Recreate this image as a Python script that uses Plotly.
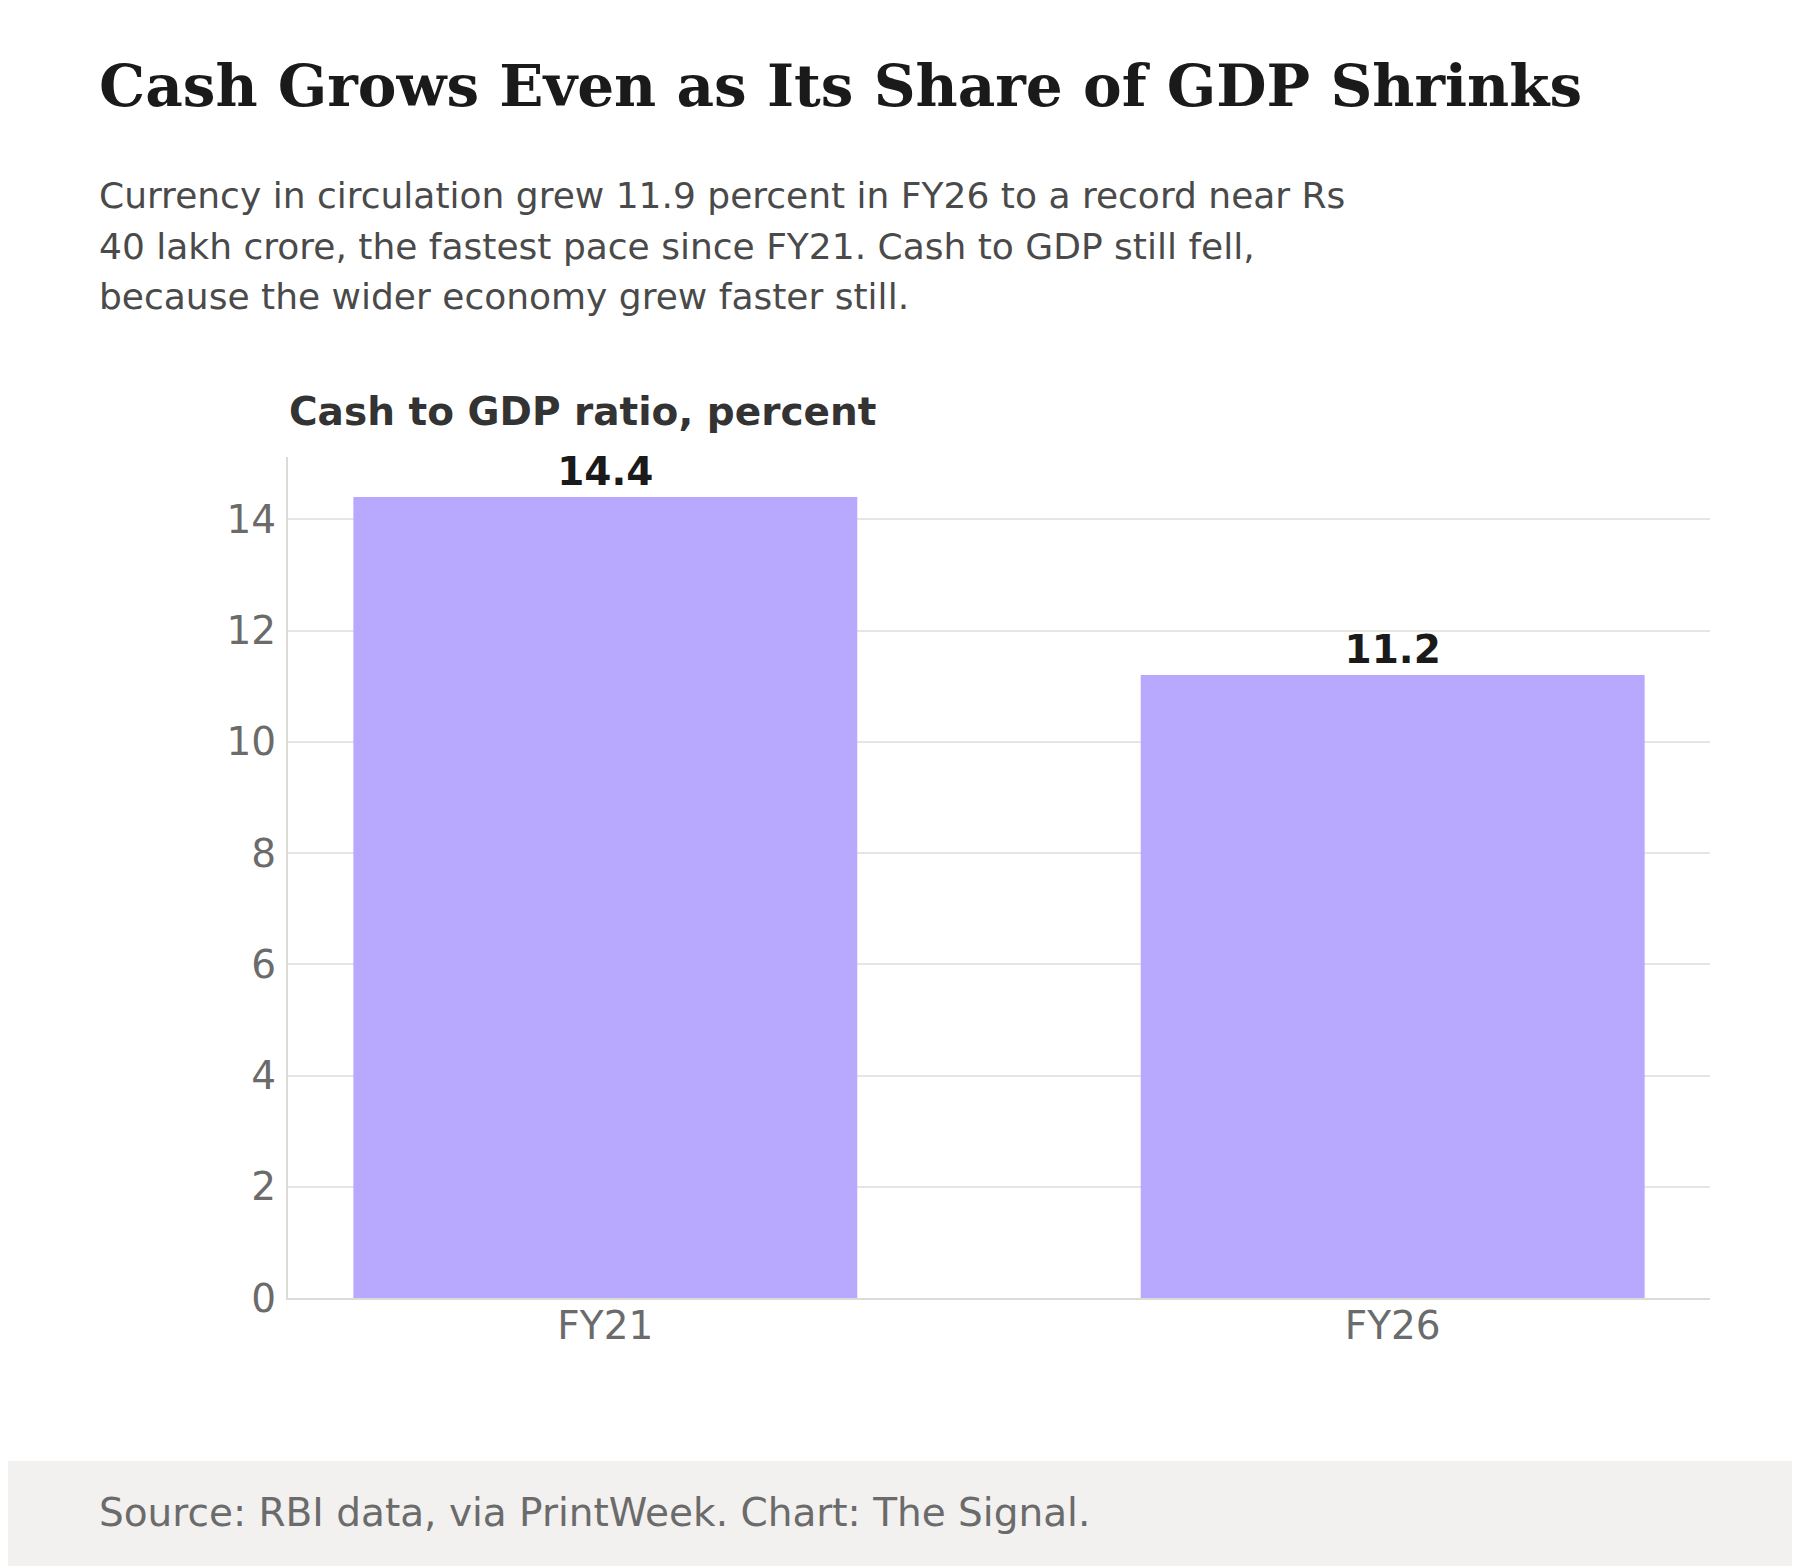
#!/usr/bin/env python3
# -*- coding: utf-8 -*-

import plotly.graph_objects as go

# data
categories = ["FY21", "FY26"]
cash_to_gdp = [14.4, 11.2]
bar_labels = ["14.4", "11.2"]
y_ticks = [0, 2, 4, 6, 8, 10, 12, 14]

title_text = "Cash Grows Even as Its Share of GDP Shrinks"
subtitle_lines = [
    "Currency in circulation grew 11.9 percent in FY26 to a record near Rs",
    "40 lakh crore, the fastest pace since FY21. Cash to GDP still fell,",
    "because the wider economy grew faster still.",
]
axis_label = "Cash to GDP ratio, percent"
source_text = "Source: RBI data, via PrintWeek. Chart: The Signal."

# page geometry (pixels); the page body adds an 8px offset
W, H = 1800, 1566
OFF = 8
L, R, T, B = 280, 98, 449, 276
PW = W - L - R
PH = H - T - B

SANS = "DejaVu Sans"
SERIF = "DejaVu Serif"


def px_x(x):
    # page x -> paper x
    return (x - OFF - L) / PW


def px_y(y):
    # page y -> paper y
    return (H - B - (y - OFF)) / PH


def mid_from_baseline(base, size):
    return base - 0.346 * size


fig = go.Figure()
fig.add_trace(go.Bar(
    x=categories,
    y=cash_to_gdp,
    width=0.64,
    marker={"color": "#b8a8fe", "line": {"width": 0}},
    text=bar_labels,
    textposition="outside",
    textfont={"family": SANS, "size": 39, "color": "#1a1a1a", "weight": "bold"},
    constraintext="none",
    cliponaxis=False,
    hoverinfo="skip",
))

annotations = []
# title
annotations.append(dict(
    text="<b>" + title_text + "</b>",
    x=px_x(97), y=px_y(mid_from_baseline(106, 58)),
    xanchor="left", yanchor="middle",
    font={"family": SERIF, "size": 58, "color": "#1a1a1a"},
))
# subtitle, one line each
for i, line in enumerate(subtitle_lines):
    annotations.append(dict(
        text=line,
        x=px_x(97), y=px_y(mid_from_baseline(208 + 50.5 * i, 36)),
        xanchor="left", yanchor="middle",
        font={"family": SANS, "size": 36, "color": "#4a4a4a"},
    ))
# axis label above the plot
annotations.append(dict(
    text="<b>" + axis_label + "</b>",
    x=px_x(287), y=px_y(mid_from_baseline(425, 39)),
    xanchor="left", yanchor="middle",
    font={"family": SANS, "size": 39, "color": "#333333"},
))
# source
annotations.append(dict(
    text=source_text,
    x=px_x(97), y=px_y(mid_from_baseline(1526, 39)),
    xanchor="left", yanchor="middle",
    font={"family": SANS, "size": 39, "color": "#6b6b6b"},
))
for a in annotations:
    a.update(xref="paper", yref="paper", showarrow=False)

fig.update_layout(
    width=W, height=H,
    margin={"l": L, "r": R, "t": T, "b": B, "pad": 0},
    paper_bgcolor="white",
    plot_bgcolor="white",
    showlegend=False,
    annotations=annotations,
    shapes=[dict(
        type="rect", xref="paper", yref="paper",
        x0=-L / PW, x1=(W - L) / PW, y0=-B / PH, y1=px_y(1461),
        fillcolor="#f2f1ef", line={"width": 0}, layer="below",
    )],
)
fig.update_xaxes(
    type="category",
    range=[-0.403, 1.403],
    showgrid=False,
    showline=True, linecolor="#dcdcd6", linewidth=2,
    ticks="",
    ticklabelstandoff=-8,
    tickfont={"family": SANS, "size": 39, "color": "#6b6b6b"},
    zeroline=False,
)
fig.update_yaxes(
    range=[0, 15.12],
    tickvals=y_ticks,
    showgrid=True, gridcolor="#e6e6e1", gridwidth=2,
    showline=True, linecolor="#dcdcd6", linewidth=2,
    ticks="",
    ticklabelstandoff=2,
    tickfont={"family": SANS, "size": 39, "color": "#6b6b6b"},
    zeroline=False,
)

fig.write_html("out.html")
